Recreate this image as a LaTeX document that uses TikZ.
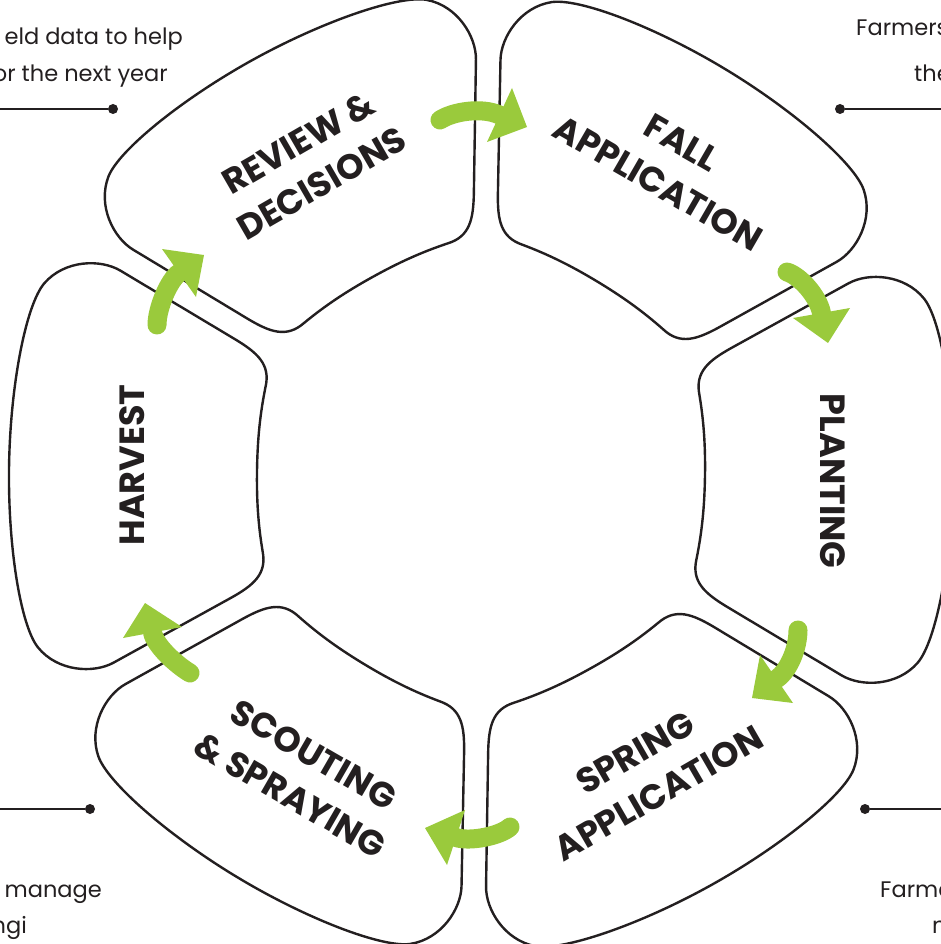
\documentclass[tikz,border=0pt]{standalone}
\usepackage{fontspec}
\setmainfont{Poppins}
\definecolor{ink}{HTML}{231F20}
\definecolor{leaf}{HTML}{9ACA3C}
\tikzset{
  seg/.style={draw=ink, line width=2.4pt, line join=round},
  lab/.style={text=ink, font=\fontsize{35}{47}\selectfont\bfseries, align=center, inner sep=0pt},
  note/.style={text=ink, font=\fontsize{22.5}{24}\selectfont, inner sep=0pt},
  flow/.style={draw=leaf, line width=19pt, line cap=round},
  head/.style={fill=leaf},
  lead/.style={draw=ink, line width=2pt},
  dotc/.style={fill=ink, circle, inner sep=0pt, minimum size=10pt}
}
\def\segshape{(-248,129.3) -- (-364,196)
  .. controls (-384,207.5) and (-420,206) .. (-440,182)
  .. controls (-458,160) and (-472,80) .. (-472,0)
  .. controls (-472,-80) and (-458,-160) .. (-440,-182)
  .. controls (-420,-206) and (-384,-207.5) .. (-364,-196)
  -- (-248,-129.3)
  .. controls (-226,-116.5) and (-212,-105) .. (-217,-82)
  .. controls (-222,-55) and (-224,-30) .. (-224,0)
  .. controls (-224,30) and (-222,55) .. (-217,82)
  .. controls (-212,105) and (-226,116.5) .. (-248,129.3) -- cycle}
\begin{document}
\begin{tikzpicture}[x=1pt,y=-1pt]
\useasboundingbox (0,0) rectangle (941,944);
\clip (0,0) rectangle (941,944);
% segments
\foreach \a in {-1,-61,-121,-181,-241,-301}{
  \begin{scope}[shift={(481,473)}, rotate=\a]
    \draw[seg] \segshape;
  \end{scope}
}
% labels
\node[lab, rotate=90] (harvest) at (132,465) {HARVEST};
\node[lab, rotate=-90] (planting) at (833,481) {PLANTING};
\node[lab, rotate=30] (review) at (310,163) {REVIEW \&\\DECISIONS};
\node[lab, rotate=-30] (fall) at (670,163) {FALL\\APPLICATION};
\node[lab, rotate=30] (spring) at (647,773) {SPRING\\APPLICATION};
\node[lab, rotate=-30] (scout) at (302,775) {SCOUTING\\\& SPRAYING};
% arrows
\coordinate (t1) at (440,120); \coordinate (b1) at (499.5,115);
\draw[flow] (t1) .. controls (452,112) and (481,106.6) .. (b1);
\fill[head] (512,88) -- (527,127) -- (487,142) -- cycle;
\coordinate (t2) at (787,272); \coordinate (b2) at (821.5,313);
\draw[flow] (t2) .. controls (800,276) and (818,296) .. (b2);
\fill[head] (793,318) -- (828,343) -- (850,308) -- cycle;
\coordinate (t3) at (798,630); \coordinate (b3) at (776.5,679);
\draw[flow] (t3) .. controls (798,648) and (789,670.5) .. (b3);
\fill[head] (760,655) -- (752,698) -- (793,703) -- cycle;
\coordinate (t4) at (510,827); \coordinate (b4) at (456,837.5);
\draw[flow] (t4) .. controls (500,836) and (470,842) .. (b4);
\fill[head] (465,810) -- (425,828) -- (447,865) -- cycle;
\coordinate (t5) at (190,673); \coordinate (b5) at (152.5,632.5);
\draw[flow] (t5) .. controls (175,664) and (155,645) .. (b5);
\fill[head] (182,627) -- (145,603) -- (123,638) -- cycle;
\coordinate (t6) at (157,325); \coordinate (b6) at (179,273);
\draw[flow] (t6) .. controls (157,308) and (169,280) .. (b6);
\fill[head] (162,249) -- (204,255) -- (196,297) -- cycle;
% side notes
\node[note, anchor=base east] (n1a) at (183,45) {eld data to help};
\node[note, anchor=base east] (n1b) at (168,82) {or the next year};
\node[note, anchor=base west] (n2a) at (856,36) {Farmers};
\node[note, anchor=base west] (n2b) at (914,82) {the};
\node[note, anchor=base east] (n3a) at (102,897) {o manage};
\node[note, anchor=base east] (n3b) at (27,933) {ngi};
\node[note, anchor=base west] (n4a) at (880,897) {Farme};
\node[note, anchor=base west] (n4b) at (932,933) {n};
% leader lines
\node[dotc] (d1) at (113,109) {};
\coordinate (e1) at (-5,109);
\draw[lead] (e1) -- (d1);
\node[dotc] (d2) at (840,109) {};
\coordinate (e2) at (946,109);
\draw[lead] (d2) -- (e2);
\node[dotc] (d3) at (90,809) {};
\coordinate (e3) at (-5,809);
\draw[lead] (e3) -- (d3);
\node[dotc] (d4) at (865,809) {};
\coordinate (e4) at (946,809);
\draw[lead] (d4) -- (e4);
\end{tikzpicture}
\end{document}
